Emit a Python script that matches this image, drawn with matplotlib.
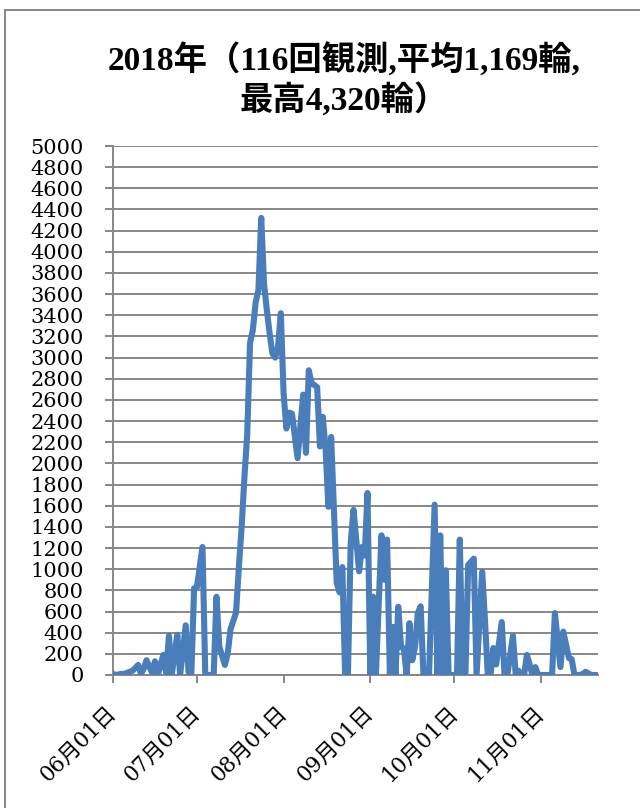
import matplotlib
matplotlib.use("Agg")
import matplotlib.pyplot as plt
import matplotlib.dates as mdates
from matplotlib.lines import Line2D
import pandas as pd

title = "2018年（116回観測,平均1,169輪,\n最高4,320輪）"

obs_dates = [
    "06-01", "06-02", "06-04", "06-05", "06-07", "06-08", "06-10", "06-11", "06-12", "06-13",
    "06-15", "06-16", "06-17", "06-19", "06-20", "06-21", "06-22", "06-23", "06-24", "06-25",
    "06-27", "06-28", "06-29", "06-30", "07-01", "07-03", "07-04", "07-06", "07-07", "07-08",
    "07-09", "07-11", "07-12", "07-13", "07-15", "07-16", "07-17", "07-18", "07-19", "07-20",
    "07-21", "07-22", "07-23", "07-24", "07-25", "07-26", "07-27", "07-28", "07-29", "07-30",
    "07-31", "08-01", "08-02", "08-03", "08-04", "08-06", "08-08", "08-09", "08-10", "08-11",
    "08-13", "08-14", "08-15", "08-16", "08-17", "08-18", "08-20", "08-21", "08-22", "08-23",
    "08-24", "08-25", "08-26", "08-28", "08-29", "08-30", "08-31", "09-01", "09-02", "09-03",
    "09-05", "09-06", "09-07", "09-08", "09-09", "09-10", "09-11", "09-12", "09-13", "09-14",
    "09-15", "09-16", "09-17", "09-18", "09-19", "09-20", "09-22", "09-24", "09-25", "09-26",
    "09-27", "09-28", "09-29", "09-30", "10-02", "10-03", "10-04", "10-05", "10-06", "10-08",
    "10-09", "10-11", "10-12", "10-13", "10-14", "10-15", "10-16", "10-18", "10-19", "10-20",
    "10-22", "10-23", "10-24", "10-25", "10-26", "10-27", "10-29", "10-30", "10-31", "11-01",
    "11-03", "11-05", "11-06", "11-08", "11-09", "11-11", "11-12", "11-13", "11-15", "11-16",
    "11-17", "11-19", "11-21",
]
counts = [
    10, 0, 10, 10, 30, 40, 95, 10, 60, 140,
    20, 130, 0, 190, 20, 370, 0, 200, 380, 0,
    470, 30, 0, 820, 830, 1210, 0, 0, 0, 740,
    270, 95, 200, 430, 590, 1020, 1400, 1870, 2280, 3140,
    3260, 3520, 3640, 4320, 3700, 3450, 3230, 3040, 3000, 3100,
    3420, 2660, 2330, 2480, 2470, 2050, 2650, 2100, 2880, 2760,
    2720, 2160, 2440, 2150, 1590, 2250, 870, 780, 1020, 0,
    0, 1250, 1560, 980, 1210, 1130, 1720, 0, 740, 0,
    1320, 900, 1280, 0, 455, 0, 645, 265, 250, 0,
    490, 140, 265, 585, 650, 0, 0, 1610, 0, 1320,
    0, 990, 0, 0, 0, 1280, 0, 0, 1040, 1100,
    0, 975, 520, 0, 0, 255, 100, 500, 0, 0,
    370, 0, 40, 0, 0, 190, 0, 75, 0, 0,
    0, 0, 585, 75, 410, 160, 150, 0, 0, 10,
    30, 0, 0,
]

y_ticks = list(range(0, 5001, 200))
x_start, x_end = "2018-06-01", "2018-11-21 10:00"

dates = pd.to_datetime(["2018-" + d for d in obs_dates])

serif = ["DejaVu Serif", "Noto Sans CJK JP"]
plt.rcParams["font.family"] = serif

fig = plt.figure(figsize=(6.4, 8.08), dpi=100)
ax = fig.add_axes([113 / 640, 1 - 675 / 808, (598 - 113) / 640, (675 - 146) / 808])

grid_c = "#878787"
ax.plot(dates, counts, color="#4a7ebb", linewidth=4.4, solid_joinstyle="round",
        solid_capstyle="round", zorder=3)

ax.set_ylim(0, 5000)
ax.set_yticks(y_ticks)
ax.set_xlim(pd.Timestamp(x_start), pd.Timestamp(x_end))
ax.xaxis.set_major_locator(mdates.MonthLocator())
ax.xaxis.set_major_formatter(mdates.DateFormatter("%m月%d日"))

ax.yaxis.grid(True, color=grid_c, linewidth=1.4)
ax.set_axisbelow(True)
for s in ["top", "right"]:
    ax.spines[s].set_visible(False)
for s in ["left", "bottom"]:
    ax.spines[s].set_color(grid_c)
    ax.spines[s].set_linewidth(1.4)

ax.tick_params(axis="y", length=6, width=1.4, color=grid_c, pad=15, labelsize=15)
ax.tick_params(axis="x", length=6, width=1.4, color=grid_c, pad=19, labelsize=15.5)
for lab in ax.get_xticklabels():
    lab.set_rotation(45)
    lab.set_ha("right")
    lab.set_va("center")
    lab.set_rotation_mode("anchor")

fig.text(344 / 640, 1 - 80 / 808, title, ha="center", va="center", fontsize=24,
         fontweight="bold", linespacing=1.2, family=["Liberation Serif", "Noto Sans CJK JP"])

# chart-area frame
fig.add_artist(Line2D([5 / 640, 5 / 640], [0, 1 - 10 / 808], transform=fig.transFigure,
                      color=grid_c, linewidth=1.4))
fig.add_artist(Line2D([5 / 640, 1], [1 - 10 / 808, 1 - 10 / 808], transform=fig.transFigure,
                      color=grid_c, linewidth=1.4))

fig.savefig("out.png", dpi=100)
